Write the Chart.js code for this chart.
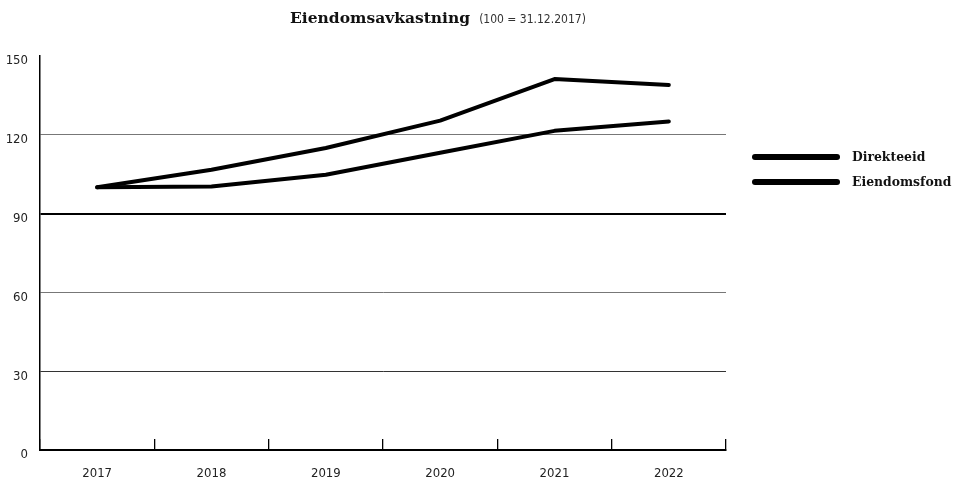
<!DOCTYPE html>
<html>
<head>
<meta charset="utf-8">
<script src="https://cdn.jsdelivr.net/npm/chart.js@4/dist/chart.umd.min.js"></script>
<style>
  html, body { margin: 0; padding: 0; background: #fff; }
  #wrap { position: relative; width: 954px; height: 481px; }
  #title { position: absolute; left: 290px; top: 8px; white-space: nowrap; color: #111; }
  #title .main { font-family: 'DejaVu Serif', serif; font-weight: bold; font-size: 15.5px; }
  #title .sub { font-family: 'Liberation Sans Narrow', 'DejaVu Sans Condensed', sans-serif; font-size: 12px; color: #333; margin-left: 9px; }
  #legend { position: absolute; left: 752px; top: 144px; }
  .item { display: flex; align-items: center; height: 25px; }
  .swatch { width: 88px; height: 6px; border-radius: 3px; background: #000; margin-right: 12px; }
  .label { font-family: 'DejaVu Serif', serif; font-weight: bold; font-size: 12.4px; color: #111; white-space: nowrap; }
  canvas { position: absolute; left: 0; top: 0; }
</style>
</head>
<body>
<div id="wrap">
  <canvas id="c" width="954" height="481"></canvas>
  <div id="title"><span class="main">Eiendomsavkastning</span><span class="sub">(100 = 31.12.2017)</span></div>
  <div id="legend"></div>
</div>
<script>
const categories = ['2017', '2018', '2019', '2020', '2021', '2022'];
const seriesNames = ['Direkteeid', 'Eiendomsfond'];
const direkteeid = [100, 106.7, 115, 125.4, 141.2, 139];
const eiendomsfond = [100, 100.3, 104.8, 113.2, 121.5, 125.1];
const yTicks = [0, 30, 60, 90, 120, 150];

const legendEl = document.getElementById('legend');
seriesNames.forEach(n => {
  const d = document.createElement('div');
  d.className = 'item';
  d.innerHTML = '<div class="swatch"></div><span class="label"></span>';
  d.querySelector('.label').textContent = n;
  legendEl.appendChild(d);
});

const tickFont = { family: "'Liberation Sans Narrow', 'DejaVu Sans Condensed', sans-serif", size: 13 };

new Chart(document.getElementById('c'), {
  type: 'line',
  data: {
    labels: categories,
    datasets: [
      { label: seriesNames[0], data: direkteeid, borderColor: '#000', borderWidth: 4, pointRadius: 0, tension: 0, borderCapStyle: 'round', borderJoinStyle: 'round' },
      { label: seriesNames[1], data: eiendomsfond, borderColor: '#000', borderWidth: 4, pointRadius: 0, tension: 0, borderCapStyle: 'round', borderJoinStyle: 'round' }
    ]
  },
  options: {
    responsive: false,
    animation: false,
    devicePixelRatio: 1,
    layout: { padding: { left: 0, top: 56, right: 228, bottom: 0 } },
    plugins: { legend: { display: false }, title: { display: false }, tooltip: { enabled: false } },
    scales: {
      x: {
        offset: true,
        grid: { offset: true, drawOnChartArea: false, drawTicks: true, tickLength: -11, color: '#000', lineWidth: 1.3 },
        border: { display: true, color: '#000', width: 2 },
        ticks: { font: tickFont, color: '#222', padding: 27, maxRotation: 0 },
        afterFit: s => { s.height = 31; }
      },
      y: {
        min: 0, max: 150,
        afterBuildTicks: s => { s.ticks = yTicks.map(v => ({ value: v })); },
        grid: {
          drawTicks: false,
          color: ctx => {
            const v = ctx.tick && ctx.tick.value;
            if (v === 150 || v === 0) return 'rgba(0,0,0,0)';
            if (v === 90) return '#000';
            if (v === 30) return '#333';
            return '#777';
          },
          lineWidth: ctx => (ctx.tick && ctx.tick.value === 90) ? 2 : 1
        },
        border: { display: true, color: '#000', width: 1.5 },
        ticks: { font: tickFont, color: '#222', padding: 12, labelOffset: 5 },
        afterFit: s => { s.width = 40; }
      }
    }
  }
});
</script>
</body>
</html>
